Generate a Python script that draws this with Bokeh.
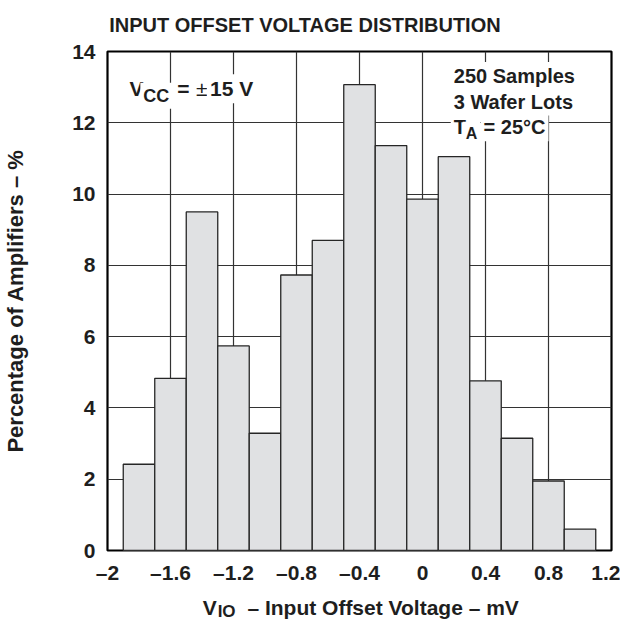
import math
from bokeh.plotting import figure
from bokeh.layouts import column
from bokeh.models import Range1d, FixedTicker, Label
from bokeh.embed import file_html
from bokeh.resources import INLINE

# ---- data ----
bin_lo = [-1.9, -1.7, -1.5, -1.3, -1.1, -0.9, -0.7, -0.5, -0.3, -0.1, 0.1, 0.3, 0.5, 0.7, 0.9]
bin_hi = [-1.7, -1.5, -1.3, -1.1, -0.9, -0.7, -0.5, -0.3, -0.1, 0.1, 0.3, 0.5, 0.7, 0.9, 1.1]
pct = [2.42, 4.83, 9.50, 5.74, 3.29, 7.73, 8.70, 13.07, 11.36, 9.86, 11.05, 4.76, 3.15, 1.95, 0.60]

x_ticks = [-2, -1.6, -1.2, -0.8, -0.4, 0, 0.4, 0.8, 1.2]
x_tick_labels = ["\u20132", "\u20131.6", "\u20131.2", "\u20130.8", "\u20130.4", "0", "0.4", "0.8", "1.2"]
y_ticks = [0, 2, 4, 6, 8, 10, 12, 14]

FONT = "Liberation Sans"
INK = "#1e1e1e"
W = 620
TOP_H = 40
BOT_H = 34
FRAME_L, FRAME_R = 103, 611  # page pixels of the plot frame

# ---- main plot (frame at page x 103..611, y 51..558) ----
p = figure(width=W, height=546, x_range=Range1d(-2, 1.2), y_range=Range1d(0, 14),
           output_backend="svg", toolbar_location=None,
           min_border_left=FRAME_L, min_border_right=W - FRAME_R,
           min_border_top=11, min_border_bottom=28)
p.background_fill_color = "white"
p.border_fill_color = "white"
p.outline_line_color = "black"
p.outline_line_width = 2.2

p.quad(left=bin_lo, right=bin_hi, bottom=0, top=pct,
       fill_color="#e0e1e3", line_color="#262626", line_width=1.3)

p.xaxis.ticker = FixedTicker(ticks=x_ticks)
p.yaxis.ticker = FixedTicker(ticks=y_ticks)
p.xgrid.ticker = FixedTicker(ticks=x_ticks)
p.ygrid.ticker = FixedTicker(ticks=y_ticks)
p.xaxis.major_label_overrides = {t: s for t, s in zip(x_ticks, x_tick_labels)}
for g in (p.xgrid, p.ygrid):
    g.grid_line_color = "#333333"
    g.grid_line_width = 1.2
for ax in (p.xaxis, p.yaxis):
    ax.axis_line_color = None
    ax.major_tick_line_color = None
    ax.minor_tick_line_color = None
    ax.major_label_text_font = FONT
    ax.major_label_text_font_style = "bold"
    ax.major_label_text_font_size = "21px"
    ax.major_label_text_color = INK
p.xaxis.major_label_standoff = 4
p.yaxis.major_label_standoff = 6

p.yaxis.axis_label = "Percentage of Amplifiers \u2013 %"
p.yaxis.axis_label_text_font = FONT
p.yaxis.axis_label_text_font_style = "bold"
p.yaxis.axis_label_text_font_size = "22px"
p.yaxis.axis_label_text_color = INK
p.yaxis.axis_label_standoff = 41


# page-pixel -> data helpers for in-frame text placement
def X(px):
    return -2 + (px - 103) / 158.3


def Y(py):
    return (558.3 - py) / 36.15


def add_text(fig, x, y, text, size=20, align="left", bg=None, style="bold"):
    l = Label(x=x, y=y, text=text, text_font=FONT, text_font_style=style,
              text_font_size=f"{size}px", text_color=INK, text_align=align,
              text_baseline="alphabetic")
    if bg:
        l.background_fill_color = bg
        l.padding = 3
    fig.add_layout(l)


# V_CC annotation
add_text(p, X(122), Y(90), "V", size=21, bg="white")
add_text(p, X(136), Y(97), "CC", size=18, bg="white")
add_text(p, X(170), Y(90), "=", size=21, bg="white")
add_text(p, X(189), Y(90), "\u00b1", size=21, bg="white", style="normal")
add_text(p, X(203), Y(90), "15 V", size=21, bg="white")

# right annotation block
add_text(p, X(448), Y(77), "250 Samples", size=20, bg="white")
add_text(p, X(448), Y(103), "3 Wafer Lots", size=20, bg="white")
add_text(p, X(448), Y(129), "T", size=20, bg="white")
add_text(p, X(460), Y(135), "A", size=16, bg="white")
add_text(p, X(478), Y(129), "= 25\u00b0C", size=20, bg="white")


# ---- text strips above and below the plot ----
# in a column Bokeh aligns the strips' frames with the main frame, so their
# x range is expressed in page pixels over the frame's span
def strip(h):
    f = figure(width=W, height=h, x_range=Range1d(FRAME_L, FRAME_R), y_range=Range1d(h, 0),
               output_backend="svg", toolbar_location=None,
               x_axis_location=None, y_axis_location=None,
               min_border_left=FRAME_L, min_border_right=W - FRAME_R,
               min_border_top=0, min_border_bottom=0)
    f.grid.visible = False
    f.outline_line_color = None
    f.background_fill_color = "white"
    f.border_fill_color = "white"
    return f


top = strip(TOP_H)
add_text(top, 302, 24, "INPUT OFFSET VOLTAGE DISTRIBUTION", size=20, align="center")

bot = strip(BOT_H)
# strip starts at page y 586
add_text(bot, 213, 21, "V", size=21, align="right")
add_text(bot, 214, 25, "IO", size=17)
add_text(bot, 244, 21, "\u2013 Input Offset Voltage \u2013 mV", size=21)

layout = column(top, p, bot, spacing=0)
open("out.html", "w").write(file_html(layout, INLINE))
